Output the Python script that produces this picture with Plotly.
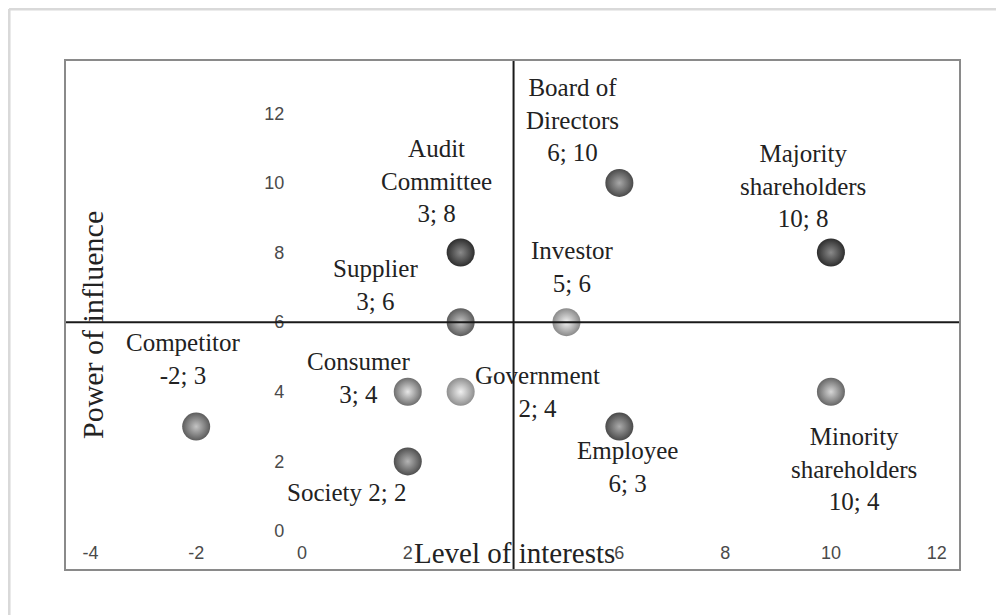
import plotly.graph_objects as go

# ---- data ----
names = ["Board of<br>Directors<br>6; 10", "Audit<br>Committee<br>3; 8", "Majority<br>shareholders<br>10; 8",
         "Supplier<br>3; 6", "Investor<br>5; 6", "Competitor<br>-2; 3", "Consumer<br>3; 4",
         "Government<br>2; 4", "Society 2; 2", "Employee<br>6; 3", "Minority<br>shareholders<br>10; 4"]
interest = [6, 3, 10, 3, 5, -2, 2, 3, 2, 6, 10]
power = [10, 8, 8, 6, 6, 3, 4, 4, 2, 3, 4]
x_ticks = [-4, -2, 0, 2, 6, 8, 10, 12]
y_ticks = [0, 2, 4, 6, 8, 10, 12]
x_split = 4
y_split = 6

# ---- styles ----
edge_colors = ["#4a4a4a", "#2e2e2e", "#2e2e2e", "#5c5c5c", "#8a8a8a", "#5c5c5c", "#6e6e6e",
               "#8f8f8f", "#4f4f4f", "#4a4a4a", "#666666"]
center_colors = ["#a8a8a8", "#8a8a8a", "#8a8a8a", "#c4c4c4", "#f2f2f2", "#c4c4c4", "#e6e6e6",
                 "#f0f0f0", "#b4b4b4", "#ababab", "#d6d6d6"]
label_shift = [(-47, 63), (-24, 72), (-28, 67), (-85, 37), (6, 55), (-13, 68), (-49, 14),
               (77, 0), (-61, -31), (8, -40), (23, -77)]

fig = go.Figure()
fig.add_trace(go.Scatter(
    x=interest, y=power, mode="markers",
    marker=dict(size=28, color=edge_colors, line=dict(width=0),
                gradient=dict(type="radial", color=center_colors)),
    hoverinfo="skip", showlegend=False))

serif = "Liberation Serif, Times New Roman, serif"
for n, xv, yv, (dx, dy) in zip(names, interest, power, label_shift):
    fig.add_annotation(x=xv, y=yv, text=n, showarrow=False, xshift=dx, yshift=dy,
                       font=dict(family=serif, size=25, color="#222222"))

fig.add_annotation(xref="paper", yref="paper", x=0.030, y=0.48, xanchor="center", yanchor="middle",
                   text="Power of influence", textangle=-90, showarrow=False,
                   font=dict(family=serif, size=30, color="#222222"))
fig.add_annotation(xref="paper", yref="paper", x=0.502, y=0.033, xanchor="center", yanchor="middle",
                   text="Level of interests", showarrow=False,
                   font=dict(family=serif, size=29, color="#222222"))

# quadrant lines
fig.add_shape(type="line", xref="x", yref="paper", x0=x_split, x1=x_split, y0=0, y1=1,
              line=dict(color="#1a1a1a", width=2))
fig.add_shape(type="line", xref="paper", yref="y", x0=0, x1=1, y0=y_split, y1=y_split,
              line=dict(color="#1a1a1a", width=2))
# frame
fig.add_shape(type="rect", xref="paper", yref="paper", x0=0, x1=1, y0=0, y1=1,
              line=dict(color="#8a8a8a", width=2))
# outer page border (left & top)
fig.add_shape(type="line", xref="paper", yref="paper", x0=-0.0625, x1=-0.0625, y0=-0.2, y1=1.1,
              line=dict(color="#d9d9d9", width=3))
fig.add_shape(type="line", xref="paper", yref="paper", x0=-0.0625, x1=1.2, y0=1.1, y1=1.1,
              line=dict(color="#d9d9d9", width=3))

tickfont = dict(family="Liberation Sans, Arial, sans-serif", size=18, color="#4a4a4a")
fig.update_layout(
    width=996, height=607,
    margin=dict(l=57, r=44, t=52, b=45),
    paper_bgcolor="white", plot_bgcolor="white",
    xaxis=dict(range=[-4.48, 12.44], tickvals=x_ticks, ticktext=[str(v) for v in x_ticks],
               showgrid=False, zeroline=False, showline=False, ticks="",
               ticklabelposition="inside", ticklabelstandoff=4, tickfont=tickfont),
    yaxis=dict(range=[-1.12, 13.53], tickvals=y_ticks, ticktext=[str(v) for v in y_ticks],
               showgrid=False, zeroline=False, showline=False, ticks="",
               anchor="free", position=0.245, tickfont=tickfont),
)
fig.write_html("out.html")
